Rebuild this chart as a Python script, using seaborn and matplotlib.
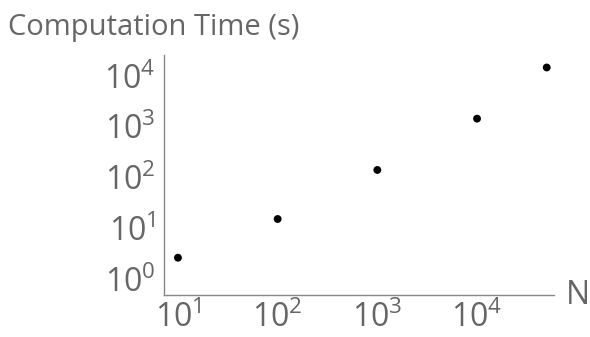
import matplotlib
matplotlib.use("Agg")
import matplotlib.pyplot as plt
import seaborn as sns
import pandas as pd
from matplotlib.ticker import FixedLocator, FixedFormatter, NullLocator

# Problem size and measured wall-clock time
n_values = [10, 100, 1000, 10000, 50000]
time_seconds = [2.65, 15.3, 141, 1440, 14600]

x_tick_values = [10, 100, 1000, 10000]
x_tick_labels = ["$10^{1}$", "$10^{2}$", "$10^{3}$", "$10^{4}$"]
y_tick_values = [1, 10, 100, 1000, 10000]
y_tick_labels = ["$10^{0}$", "$10^{1}$", "$10^{2}$", "$10^{3}$", "$10^{4}$"]

sns.set_theme(style="white")
plt.rcParams["font.family"] = ["Open Sans", "DejaVu Sans"]
plt.rcParams["mathtext.fontset"] = "custom"
plt.rcParams["mathtext.rm"] = "Open Sans"
plt.rcParams["mathtext.it"] = "Open Sans"
plt.rcParams["mathtext.default"] = "regular"

text_grey = "#666666"
axis_grey = "#888888"

df = pd.DataFrame({"N": n_values, "time": time_seconds})

fig = plt.figure(figsize=(5.9, 3.37), dpi=100)
ax = fig.add_axes([164 / 590, 1 - 295 / 337, (554 - 164) / 590, (295 - 55) / 337])

sns.scatterplot(data=df, x="N", y="time", ax=ax, color="black", s=32,
                edgecolor="none", legend=False)

ax.set_xscale("log")
ax.set_yscale("log")
ax.set_xlim(10 ** 0.86, 10 ** 4.772)
ax.set_ylim(10 ** -0.31, 10 ** 4.41)

ax.xaxis.set_major_locator(FixedLocator(x_tick_values))
ax.xaxis.set_major_formatter(FixedFormatter(x_tick_labels))
ax.yaxis.set_major_locator(FixedLocator(y_tick_values))
ax.yaxis.set_major_formatter(FixedFormatter(y_tick_labels))
ax.xaxis.set_minor_locator(NullLocator())
ax.yaxis.set_minor_locator(NullLocator())

ax.tick_params(axis="both", direction="in", length=4, width=1, color=axis_grey,
               labelcolor=text_grey, labelsize=23)
ax.tick_params(axis="y", pad=6)
ax.tick_params(axis="x", pad=5)

for side in ["top", "right"]:
    ax.spines[side].set_visible(False)
for side in ["left", "bottom"]:
    ax.spines[side].set_color(axis_grey)
    ax.spines[side].set_linewidth(1.0)

ax.set_xlabel("")
ax.set_ylabel("")

fig.text(8 / 590, 1 - 28 / 337, "Computation Time (s)", color=text_grey,
         fontsize=21, ha="left", va="center")
fig.text(566 / 590, 1 - 295 / 337, "N", color=text_grey,
         fontsize=23, ha="left", va="center")

fig.savefig("out.png", dpi=100, facecolor="white")
